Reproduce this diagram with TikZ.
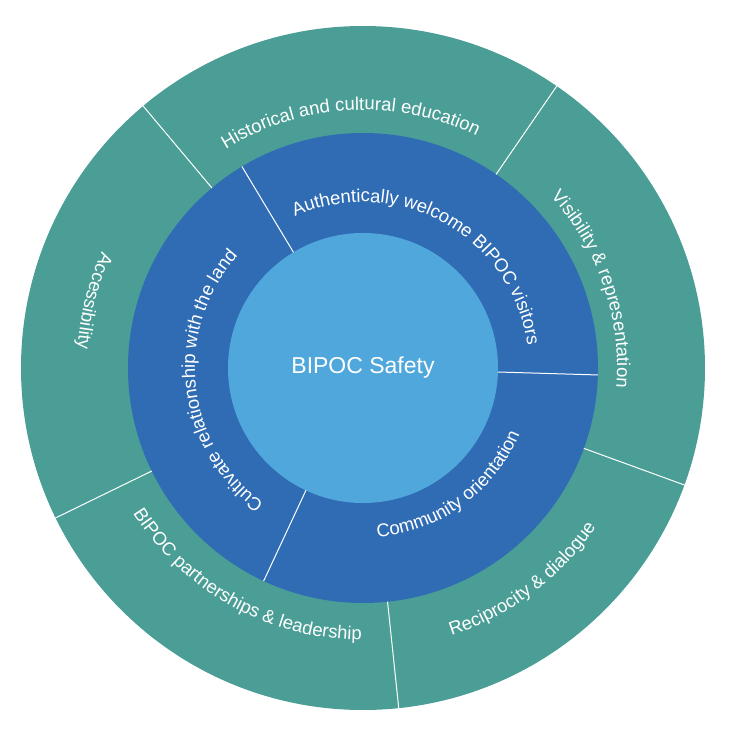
\documentclass[tikz,border=0pt]{standalone}
\usepackage{fontspec}
\setmainfont{Liberation Sans}
\usetikzlibrary{decorations.text}
\definecolor{outerc}{HTML}{4A9E96}
\definecolor{midc}{HTML}{2F6CB4}
\definecolor{innc}{HTML}{50A7DC}
\newcommand{\lblfont}{\color{white}\fontsize{18.5}{22}\selectfont}
\newcommand{\cwtext}[3]{% angle, baseline radius, text  (clockwise, tops outward)
  \path[decorate,decoration={text along path,text align=center,text={|\lblfont|#3}}]
    (#1+88:#2) arc[start angle=#1+88,end angle=#1-88,radius=#2];}
\newcommand{\ccwtext}[3]{% angle, baseline radius, text (ccw, tops inward)
  \path[decorate,decoration={text along path,text align=center,text={|\lblfont|#3}}]
    (#1-88:#2) arc[start angle=#1-88,end angle=#1+88,radius=#2];}
\tikzset{divider/.style={white,line width=1pt}}
\begin{document}
\begin{tikzpicture}[x=1pt,y=1pt]
\useasboundingbox (-363,-377) rectangle (379,368);
\fill[outerc] (0,0) circle[radius=342];
\fill[midc] (0,0) circle[radius=235];
\fill[innc] (0,0) circle[radius=135];
\foreach \a in {130,55.5,-20,-84,206} \draw[divider] (\a:235) -- (\a:343);
\foreach \a in {121,-1.7,-115} \draw[divider] (\a:135) -- (\a:235);
\node[text=white,font=\fontsize{23}{27}\selectfont] (center) at (0,0) {BIPOC Safety};
% outer ring
\cwtext{93}{258}{Historical and cultural education}
\cwtext{19}{254}{Visibility {\&} representation}
\ccwtext{166}{286}{Accessibility}
\ccwtext{-53}{282}{Reciprocity {\&} dialogue}
\ccwtext{-119}{272}{BIPOC partnerships {\&} leadership}
% middle ring
\cwtext{61}{166}{Authentically welcome BIPOC visitors}
\ccwtext{-54}{170}{Community orientation}
\cwtext{186}{168}{Cultivate relationship with the land}
\end{tikzpicture}
\end{document}
